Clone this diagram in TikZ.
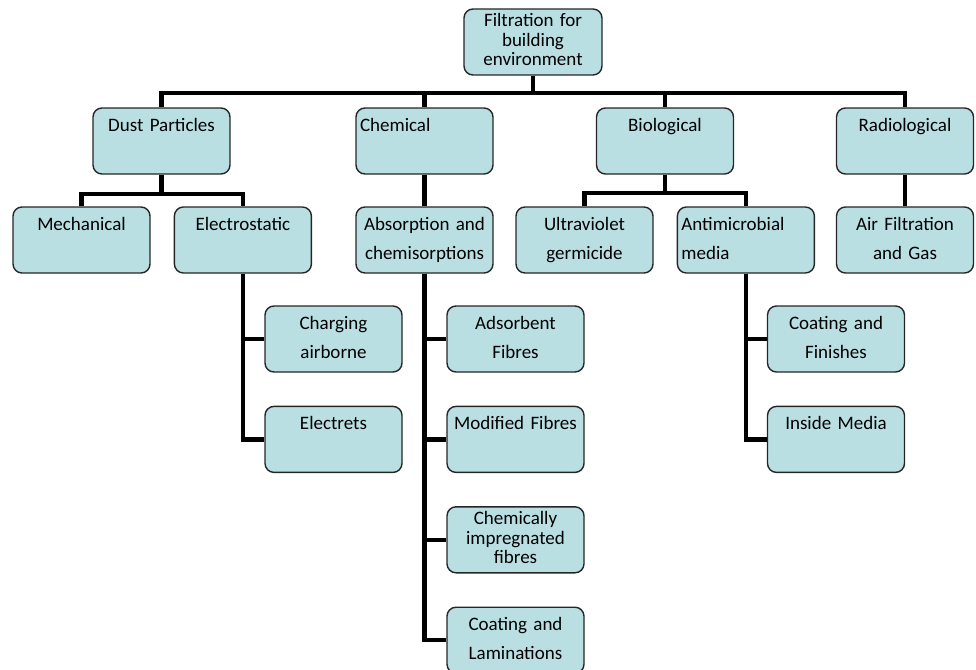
\documentclass[tikz,border=0pt]{standalone}
\usepackage{fontspec}
\setmainfont{Carlito}
\usetikzlibrary{positioning}
\definecolor{boxfill}{RGB}{185,223,227}
\tikzset{
    catbox/.style={rectangle, rounded corners=9pt, draw=black!85, fill=boxfill, line width=1.4pt, minimum width=137pt, minimum height=66pt, inner xsep=4pt, inner ysep=0pt, text width=129pt, align=center, font=\fontsize{19}{29}\selectfont, text height=23pt, text depth=43pt},
    catboxl/.style={catbox, align=left},
    catbox3/.style={catbox, font=\fontsize{19}{19.5}\selectfont, text height=18pt, text depth=48pt},
    link/.style={line width=4.4pt, color=black}
}

\begin{document}
\begin{tikzpicture}[x=1pt, y=-1pt, node distance=33pt and 23pt]
    \useasboundingbox (0,0) rectangle (976,669);
    \node[catbox3, minimum width=138pt] at (533,42) (root) {Filtration for\\building\\environment};
    \node[catbox] at (161.5,141) (dust) {Dust Particles};
    \node[catboxl] at (424.5,141) (chem) {Chemical};
    \node[catbox] at (665,141) (bio) {Biological};
    \node[catbox] at (905,141) (radio) {Radiological};
    \node[catbox] at (81.5,240) (mech) {Mechanical};
    \node[catbox, right=of mech] (elec) {Electrostatic};
    \node[catbox] at (424.5,240) (absorb) {Absorption and\\chemisorptions};
    \node[catbox] at (584.5,240) (uv) {Ultraviolet\\germicide};
    \node[catboxl, right=of uv] (antimic) {Antimicrobial\\media};
    \node[catbox] at (905,240) (airf) {Air Filtration\\and Gas};
    \node[catbox] at (333.5,339) (charg) {Charging\\airborne};
    \node[catbox, below=of charg] (electr) {Electrets};
    \node[catbox] at (515.5,339) (adsorb) {Adsorbent\\Fibres};
    \node[catbox, below=of adsorb] (modif) {Modified Fibres};
    \node[catbox3, below=of modif] (chemimp) {Chemically\\impregnated\\fibres};
    \node[catbox, below=of chemimp] (coatlam) {Coating and\\Laminations};
    \node[catbox] at (836,339) (coatfin) {Coating and\\Finishes};
    \node[catbox, below=of coatfin] (inside) {Inside Media};
    \draw[link] (root.south) -- ++(0,17) -| (dust.north); \draw[link] (root.south) -- ++(0,17) -| (chem.north);
    \draw[link] (root.south) -- ++(0,17) -| (bio.north); \draw[link] (root.south) -- ++(0,17) -| (radio.north);
    \draw[link] (dust.south) -- ++(0,19) -| (mech.north); \draw[link] (dust.south) -- ++(0,19) -| (elec.north);
    \draw[link] (chem) -- (absorb);
    \draw[link] (bio.south) -- ++(0,18) -| (uv.north); \draw[link] (bio.south) -- ++(0,18) -| (antimic.north);
    \draw[link] (radio) -- (airf);
    \draw[link] (elec.south) |- (charg.west); \draw[link] (elec.south) |- (electr.west);
    \draw[link] (absorb.south) |- (adsorb.west); \draw[link] (absorb.south) |- (modif.west);
    \draw[link] (absorb.south) |- (chemimp.west); \draw[link] (absorb.south) |- (coatlam.west);
    \draw[link] (antimic.south) |- (coatfin.west); \draw[link] (antimic.south) |- (inside.west);
\end{tikzpicture}
\end{document}
